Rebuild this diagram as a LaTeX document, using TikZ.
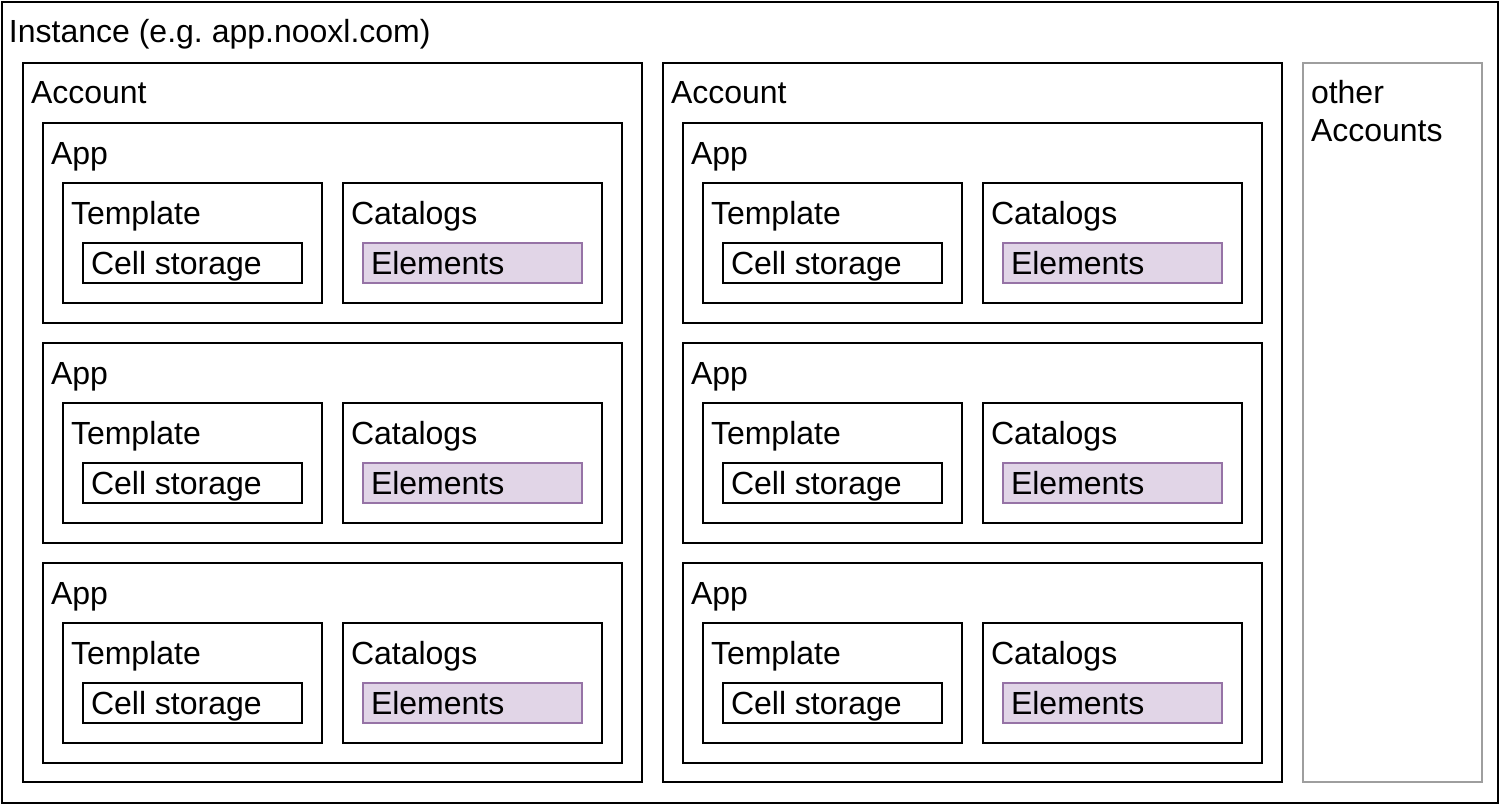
\documentclass[tikz,border=0pt]{standalone}
\usepackage{fontspec}
\setmainfont{Liberation Sans}
\frenchspacing
\definecolor{elfill}{HTML}{E1D5E7}
\definecolor{eldraw}{HTML}{9673A6}
\definecolor{othergray}{HTML}{9E9E9E}
\begin{document}
\begin{tikzpicture}[x=1pt,y=-1pt,
  box/.style={draw=black,line width=2pt,rectangle,inner sep=0pt,outer sep=0pt,anchor=north west},
  elbox/.style={box,draw=eldraw,fill=elfill},
  graybox/.style={box,draw=othergray},
  lbl/.style={inner sep=0pt,outer sep=0pt,anchor=base west,font=\fontsize{32}{38}\selectfont},
  lbl2/.style={inner sep=0pt,outer sep=0pt,anchor=north west,align=left,font=\fontsize{32}{38}\selectfont}
]
\useasboundingbox (0,0) rectangle (1499,804);
% instance
\node[box,minimum width=1496pt,minimum height=801pt] (inst) at (1.5,1.5) {};
\node[lbl] (instl) at (9,42) {Instance (e.g. app.nooxl.com)};
% accounts
\foreach \a/\ax in {1/23,2/663}{
  \node[box,minimum width=619pt,minimum height=719pt] (acc\a) at (\ax,63) {};
  \node[lbl] (acc\a l) at (\ax+8,103) {Account};
  \foreach \p/\py in {1/123,2/343,3/563}{
    \node[box,minimum width=579pt,minimum height=200pt] (app\a-\p) at (\ax+20,\py) {};
    \node[lbl] (app\a-\p l) at (\ax+28,\py+41) {App};
    \node[box,minimum width=259pt,minimum height=120pt] (tpl\a-\p) at (\ax+40,\py+60) {};
    \node[lbl] (tpl\a-\p l) at (\ax+48,\py+101) {Template};
    \node[box,minimum width=219pt,minimum height=40pt] (cell\a-\p) at (\ax+60,\py+120) {};
    \node[lbl] (cell\a-\p l) at (\ax+68,\py+151) {Cell storage};
    \node[box,minimum width=259pt,minimum height=120pt] (cat\a-\p) at (\ax+320,\py+60) {};
    \node[lbl] (cat\a-\p l) at (\ax+328,\py+101) {Catalogs};
    \node[elbox,minimum width=219pt,minimum height=40pt] (el\a-\p) at (\ax+340,\py+120) {};
    \node[lbl] (el\a-\p l) at (\ax+348,\py+151) {Elements};
  }
}
% other accounts
\node[graybox,minimum width=179pt,minimum height=719pt] (oth) at (1303,63) {};
\node[lbl2] (othl) at (1311,80) {other\\Accounts};
\end{tikzpicture}
\end{document}
